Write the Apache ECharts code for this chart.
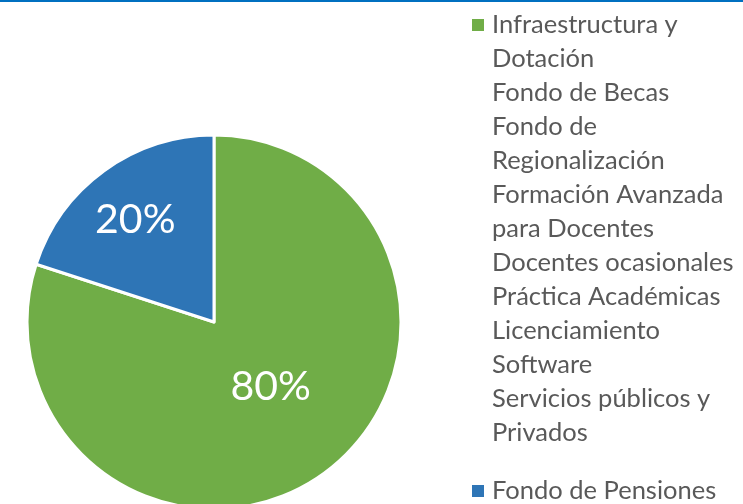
<!DOCTYPE html>
<html>
<head>
<meta charset="utf-8">
<style>
  html, body { margin: 0; padding: 0; background: #fff; }
  #chart { width: 743px; height: 504px; }
</style>
<script src="https://cdn.jsdelivr.net/npm/echarts@6/dist/echarts.min.js"></script>
</head>
<body>
<div id="chart"></div>
<script>
const categories = [
    'Infraestructura y\nDotación\nFondo de Becas\nFondo de\nRegionalización\nFormación Avanzada\npara Docentes\nDocentes ocasionales\nPráctica Académicas\nLicenciamiento\nSoftware\nServicios públicos y\nPrivados',
    'Fondo de Pensiones'
];
const values = [80, 20];
const colors = ['#70ad47', '#2e75b6'];

const chart = echarts.init(document.getElementById('chart'));

const legendText = {
    fontFamily: 'Lato',
    fontSize: 25.5,
    lineHeight: 34,
    color: '#595959'
};

const legendIconStyle = {
    borderWidth: 0,
    borderColor: 'rgba(0,0,0,0)'
};

const option = {
    animation: false,
    color: colors,
    graphic: [
        {
            type: 'rect',
            shape: { x: 0, y: 0, width: 743, height: 2 },
            style: { fill: '#0070c0' }
        }
    ],
    legend: [
        {
            // tall invisible box keeps the square next to the first text line
            data: [{ name: categories[0], icon: 'path://M0 0H12V12H0Z M15 420' }],
            orient: 'vertical',
            left: 472,
            top: 8,
            padding: 0,
            itemWidth: 15,
            itemHeight: 420,
            selectedMode: false,
            itemStyle: legendIconStyle,
            textStyle: legendText
        },
        {
            data: [{ name: categories[1], icon: 'path://M0 0H12V12H0Z M15 12' }],
            orient: 'vertical',
            left: 472,
            top: 474,
            padding: 0,
            itemWidth: 15,
            itemHeight: 12,
            selectedMode: false,
            itemStyle: legendIconStyle,
            textStyle: legendText
        }
    ],
    series: [
        {
            type: 'pie',
            center: [214, 322],
            radius: 187,
            startAngle: 90,
            clockwise: true,
            silent: true,
            itemStyle: {
                borderColor: '#ffffff',
                borderWidth: 3
            },
            label: {
                position: 'inside',
                formatter: '{d}%',
                color: '#ffffff',
                fontFamily: 'Lato',
                fontSize: 41
            },
            labelLayout: function (params) {
                if (params.dataIndex === 1) {
                    return { dx: -22, dy: -24 };
                }
                return { dy: -13 };
            },
            labelLine: { show: false },
            data: categories.map((name, i) => ({ name: name, value: values[i] }))
        }
    ]
};

chart.setOption(option);
</script>
</body>
</html>
